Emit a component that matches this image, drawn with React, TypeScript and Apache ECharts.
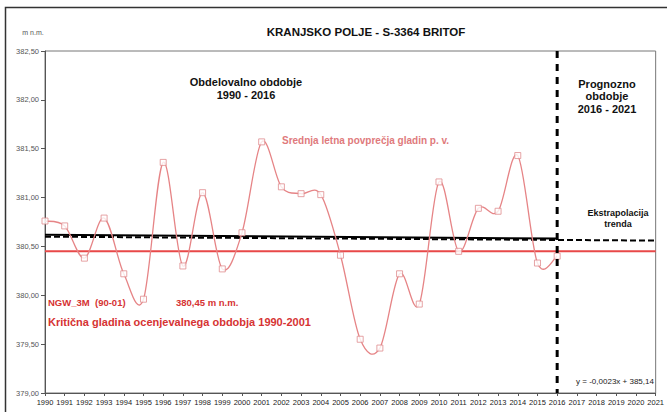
import React, { useEffect, useRef } from "react";
import * as echarts from "echarts";

const years = [1990, 1991, 1992, 1993, 1994, 1995, 1996, 1997, 1998, 1999, 2000, 2001, 2002, 2003, 2004, 2005, 2006, 2007, 2008, 2009, 2010, 2011, 2012, 2013, 2014, 2015, 2016];
const levels = [380.76, 380.71, 380.38, 380.79, 380.22, 379.96, 381.36, 380.30, 381.05, 380.27, 380.64, 381.57, 381.11, 381.04, 381.03, 380.41, 379.55, 379.46, 380.22, 379.91, 381.16, 380.45, 380.89, 380.86, 381.43, 380.33, 380.40];
const trendYears = [1990, 2016];
const trendValues = [380.62, 380.58];
const extrapYears = [1990, 2021];
const extrapValues = [380.60, 380.56];
const criticalYears = [1990, 2021];
const criticalLevel = 380.45;
const splitYear = 2016;
const yRange = [379, 382.5];

export default function App() {
  const ref = useRef<HTMLDivElement>(null);
  useEffect(() => {
    if (!ref.current) return;
    const chart = echarts.init(ref.current, null, { renderer: "svg" });
    const salmon = "#e68486";
    const font = "Arial, 'Liberation Sans', sans-serif";
    const txt = (x: number, y: number, text: string, size: number, fill: string, bold: boolean, align = "left", lh?: number) => ({
      type: "text",
      x,
      y,
      silent: true,
      style: {
        text,
        fill,
        font: `${bold ? "bold " : ""}${size}px ${font}`,
        align,
        textAlign: align,
        verticalAlign: "middle",
        textVerticalAlign: "middle",
        lineHeight: lh,
      },
    });
    const pts = years.map((x, i) => [x, levels[i]]);
    const n = pts.length;
    chart.setOption({
      animation: false,
      backgroundColor: "#fff",
      grid: { left: 45, right: 7, top: 51, bottom: 19, show: true, borderColor: "#777", borderWidth: 1 },
      xAxis: {
        type: "value",
        min: 1990,
        max: 2021,
        interval: 1,
        splitLine: { show: false },
        axisLine: { show: true, lineStyle: { color: "#555" } },
        axisTick: { show: true, length: 3, lineStyle: { color: "#555" } },
        axisLabel: {
          fontSize: 7.5,
          color: "#222",
          margin: 5,
          fontFamily: "'Liberation Sans Narrow', 'Arial Narrow', Arial, sans-serif",
          formatter: (v: number) => String(v),
        },
      },
      yAxis: {
        type: "value",
        min: yRange[0],
        max: yRange[1],
        interval: 0.5,
        splitLine: { show: false },
        axisLine: { show: true, lineStyle: { color: "#555" } },
        axisTick: { show: true, length: 4, lineStyle: { color: "#555" } },
        axisLabel: {
          fontSize: 7.5,
          color: "#555",
          margin: 6,
          fontFamily: font,
          formatter: (v: number) => v.toFixed(2).replace(".", ","),
        },
      },
      series: [
        {
          type: "line",
          data: criticalYears.map((x) => [x, criticalLevel]),
          symbol: "none",
          lineStyle: { color: "#e84848", width: 2 },
          silent: true,
          z: 2,
        },
        {
          type: "line",
          data: extrapYears.map((x, i) => [x, extrapValues[i]]),
          symbol: "none",
          lineStyle: { color: "#000", width: 2, type: [6, 3] },
          silent: true,
          z: 3,
        },
        {
          type: "line",
          data: trendYears.map((x, i) => [x, trendValues[i]]),
          symbol: "none",
          lineStyle: { color: "#000", width: 2 },
          silent: true,
          z: 3,
        },
        {
          type: "custom",
          data: pts,
          encode: { x: 0, y: 1 },
          silent: true,
          z: 4,
          renderItem: (params: any, api: any) => {
            const i = params.dataIndex;
            if (i >= n - 1) return null;
            const c = (k: number) => api.coord(pts[Math.max(0, Math.min(n - 1, k))]);
            const p0 = c(i - 1), p1 = c(i), p2 = c(i + 1), p3 = c(i + 2);
            return {
              type: "bezierCurve",
              shape: {
                x1: p1[0],
                y1: p1[1],
                cpx1: p1[0] + (p2[0] - p0[0]) / 6,
                cpy1: p1[1] + (p2[1] - p0[1]) / 6,
                cpx2: p2[0] - (p3[0] - p1[0]) / 6,
                cpy2: p2[1] - (p3[1] - p1[1]) / 6,
                x2: p2[0],
                y2: p2[1],
              },
              style: { stroke: salmon, lineWidth: 1.3, fill: "none" },
            };
          },
        },
        {
          type: "scatter",
          data: pts,
          symbol: "rect",
          symbolSize: 6,
          itemStyle: { color: "#fff", borderColor: "#e08c8e", borderWidth: 1 },
          z: 5,
        },
        {
          type: "line",
          data: [[splitYear, yRange[1]], [splitYear, yRange[0]]],
          symbol: "none",
          lineStyle: { color: "#000", width: 3, type: [7, 6] },
          silent: true,
          z: 6,
        },
      ],
      graphic: [
        {
          type: "rect",
          silent: true,
          shape: { x: 5.5, y: 7.5, width: 670, height: 420 },
          style: { fill: "none", stroke: "#333", lineWidth: 1.5 },
          z: -1,
        },
        txt(366, 32, "KRANJSKO POLJE - S-3364 BRITOF", 11.5, "#111", true, "center"),
        txt(33, 32, "m n.m.", 7, "#555", false, "center"),
        txt(246, 88, "Obdelovalno obdobje\n1990 - 2016", 11, "#111", true, "center", 13),
        txt(607, 96, "Prognozno\nobdobje\n2016 - 2021", 11, "#111", true, "center", 12.5),
        txt(282, 140, "Srednja letna povprečja gladin p. v.", 10, "#e07a7c", true, "left"),
        txt(618, 218, "Ekstrapolacija\ntrenda", 9, "#111", true, "center", 11),
        txt(48, 302, "NGW_3M  (90-01)", 9.5, "#d63333", true, "left"),
        txt(176, 302, "380,45 m n.m.", 9.5, "#d63333", true, "left"),
        txt(48, 322, "Kritična gladina ocenjevalnega obdobja 1990-2001", 11, "#d63333", true, "left"),
        txt(615, 381, "y = -0,0023x + 385,14", 8, "#222", false, "center"),
      ],
    });
    return () => chart.dispose();
  }, []);
  return <div ref={ref} style={{ position: "fixed", left: 0, top: 0, width: 667, height: 412 }} />;
}
